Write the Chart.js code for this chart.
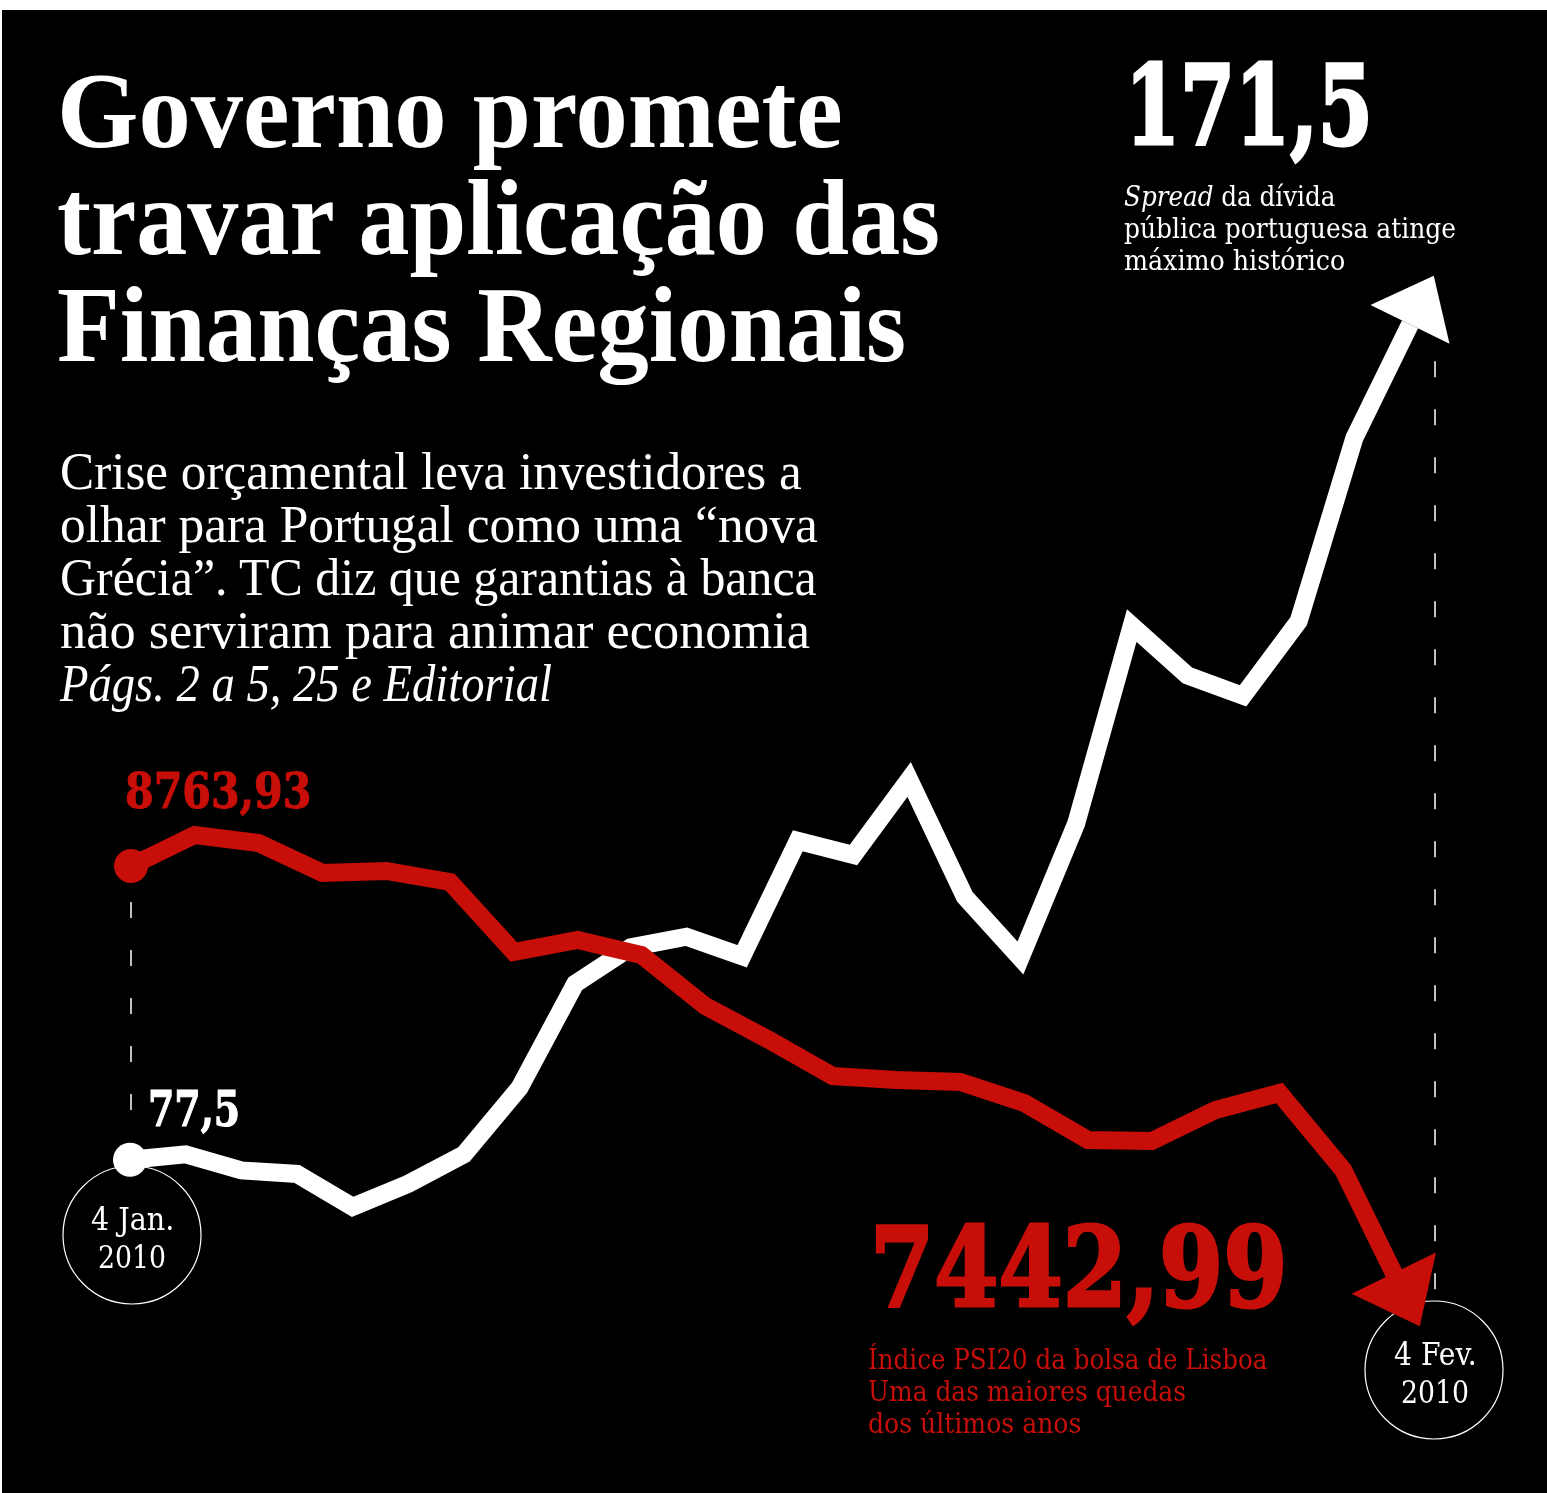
<!DOCTYPE html>
<html lang="pt">
<head>
<meta charset="utf-8">
<title>Governo promete travar aplicação das Finanças Regionais</title>
<script src="https://cdn.jsdelivr.net/npm/chart.js@4.4.1/dist/chart.umd.min.js"></script>
<style>
  html, body { margin: 0; padding: 0; background: #fff; }
  #page { position: relative; width: 1547px; height: 1493px; overflow: hidden; }
  #panel { position: absolute; left: 2px; top: 10px; right: 0; bottom: 0; background: #000; }
  #chart { position: absolute; left: 0; top: 0; }
  .t { position: absolute; white-space: nowrap; line-height: 1; transform-origin: 0 0; }
  .title { font-family: "Liberation Serif", serif; font-weight: 700; color: #fff; }
  .sub { font-family: "Liberation Serif", serif; color: #fff; }
  .num { font-family: "DejaVu Serif Condensed", "DejaVu Serif", serif; font-weight: 700; }
  .big { -webkit-text-stroke: 3px currentColor; }
  .small { -webkit-text-stroke: 1px currentColor; }
  .cap { font-family: "DejaVu Serif Condensed", "DejaVu Serif", serif; }
  .date { font-family: "DejaVu Serif Condensed", "DejaVu Serif", serif; color: #fff; }
</style>
</head>
<body>
<div id="page">
  <div id="panel"></div>
  <canvas id="chart" width="1547" height="1493"></canvas>
  <div id="labels"></div>
</div>
<script>
// spread da dívida pública (pontos base), sessões de 4 Jan. a 4 Fev. 2010
const spreadDates = ['4 Jan', '5 Jan', '6 Jan', '7 Jan', '8 Jan', '11 Jan', '12 Jan', '13 Jan', '14 Jan', '15 Jan', '18 Jan', '19 Jan',
    '20 Jan', '21 Jan', '22 Jan', '25 Jan', '26 Jan', '27 Jan', '28 Jan', '29 Jan', '1 Fev', '2 Fev', '3 Fev', '4 Fev'];
const spreadValues = [77.5, 78.1, 76.3, 75.9, 72.2, 74.8, 78.1, 85.6, 97.3, 101.4, 102.6, 100.4,
    113.4, 111.8, 120.3, 107.1, 100.2, 115.3, 137.6, 132.0, 129.7, 138.1, 158.7, 171.5];

// índice PSI20
const psiValues = [8763.93, 8858.3, 8833.9, 8742.6, 8748.7, 8715.2, 8502.2, 8538.7, 8493.1, 8337.9, 8234.4,
    8124.8, 8112.7, 8106.6, 8042.7, 7930.1, 7927.0, 8021.4, 8073.1, 7838.8, 7442.99];

const RED = '#c80e08';
const WHITE = '#ffffff';

// texts: [text, class, left, baseline, size, width, colour]
const textLines = [
    ['Governo promete', 'title', 57, 148, 108, 786],
    ['travar aplicação das', 'title', 57, 255, 108, 883],
    ['Finanças Regionais', 'title', 57, 362, 108, 849],
    ['Crise orçamental leva investidores a', 'sub', 60, 490, 52, 742],
    ['olhar para Portugal como uma “nova', 'sub', 60, 543, 52, 758],
    ['Grécia”. TC diz que garantias à banca', 'sub', 60, 596, 52, 757],
    ['não serviram para animar economia', 'sub', 60, 649, 52, 750],
    ['<i>Págs. 2 a 5, 25 e Editorial</i>', 'sub', 60, 702, 52, 492],
    ['171,5', 'num big', 1125, 143, 111, 248, WHITE],
    ['<i>Spread</i> da dívida', 'cap', 1124, 206, 27, 211, WHITE],
    ['pública portuguesa atinge', 'cap', 1124, 238, 27, 332, WHITE],
    ['máximo histórico', 'cap', 1124, 270, 27, 221, WHITE],
    ['8763,93', 'num small', 125, 808, 49, 186, RED],
    ['77,5', 'num small', 148, 1125, 48, 92, WHITE],
    ['7442,99', 'num big', 870, 1305, 110, 418, RED],
    ['Índice PSI20 da bolsa de Lisboa', 'cap', 868, 1369, 27, 399, RED],
    ['Uma das maiores quedas', 'cap', 868, 1401, 27, 318, RED],
    ['dos últimos anos', 'cap', 868, 1433, 27, 213, RED],
    ['4 Jan.', 'date', 91, 1230, 31, 83],
    ['2010', 'date', 98, 1268, 31, 68],
    ['4 Fev.', 'date', 1394, 1365, 31, 83],
    ['2010', 'date', 1401, 1403, 31, 68]
];

const labels = document.getElementById('labels');
textLines.forEach(([txt, cls, x, base, size, w, color]) => {
    const el = document.createElement('span');
    el.className = 't ' + cls;
    el.innerHTML = txt;
    el.style.left = x + 'px';
    el.style.top = (base - size * 0.84) + 'px';
    el.style.fontSize = size + 'px';
    if (color) el.style.color = color;
    el.dataset.w = w;
    labels.appendChild(el);
});

// squeeze each line to the width it has in the print layout
function fitWidths() {
    document.querySelectorAll('.t').forEach(el => {
        const actual = el.offsetWidth;
        if (actual > 0) el.style.transform = `scaleX(${(el.dataset.w / actual).toFixed(4)})`;
    });
}

const arrowsAndMarks = {
    id: 'arrowsAndMarks',
    beforeDatasetsDraw(chart) {
        const { ctx } = chart;
        const red = chart.getDatasetMeta(0).data;
        const white = chart.getDatasetMeta(1).data;
        ctx.save();
        ctx.strokeStyle = WHITE;
        ctx.lineWidth = 1.5;
        ctx.setLineDash([16, 32]);
        // left marker: start date
        ctx.beginPath();
        ctx.moveTo(131, red[0].y + 36);
        ctx.lineTo(131, white[0].y - 48);
        ctx.stroke();
        // right marker: end date
        ctx.beginPath();
        ctx.moveTo(1435, white[white.length - 1].y + 37);
        ctx.lineTo(1435, 1301);
        ctx.stroke();
        ctx.setLineDash([]);
        ctx.lineWidth = 1.2;
        [[132, 1235], [1434, 1370]].forEach(([cx, cy]) => {
            ctx.beginPath();
            ctx.arc(cx, cy, 69, 0, Math.PI * 2);
            ctx.stroke();
        });
        ctx.restore();
    },
    afterDatasetsDraw(chart) {
        const { ctx } = chart;
        // [dataset, colour, half base, length, pulled back from last point]
        const heads = [[0, RED, 47, 59, 30], [1, WHITE, 44, 54, 0]];
        heads.forEach(([i, color, half, len, back]) => {
            const pts = chart.getDatasetMeta(i).data;
            const a = pts[pts.length - 2];
            const b = pts[pts.length - 1];
            const dx = b.x - a.x, dy = b.y - a.y;
            const d = Math.hypot(dx, dy);
            const ux = dx / d, uy = dy / d;
            const bx = b.x - ux * back, by = b.y - uy * back;
            ctx.save();
            ctx.fillStyle = color;
            ctx.beginPath();
            ctx.moveTo(bx - uy * half, by + ux * half);
            ctx.lineTo(bx + ux * len, by + uy * len);
            ctx.lineTo(bx + uy * half, by - ux * half);
            ctx.closePath();
            ctx.fill();
            ctx.restore();
        });
    }
};

const lineStyle = {
    borderWidth: 18,
    borderJoinStyle: 'miter',
    borderCapStyle: 'butt',
    tension: 0,
    clip: false,
    pointRadius: ctx => ctx.dataIndex === 0 ? 17 : 0,
    pointBorderWidth: 0,
    pointHoverRadius: 0
};

new Chart(document.getElementById('chart'), {
    type: 'line',
    data: {
        datasets: [
            {
                label: 'PSI20',
                data: psiValues.map((v, i) => ({ x: i, y: v })),
                xAxisID: 'xR',
                yAxisID: 'yR',
                borderColor: RED,
                pointBackgroundColor: RED,
                ...lineStyle
            },
            {
                label: 'Spread',
                data: spreadValues.map((v, i) => ({ x: i, y: v, date: spreadDates[i] })),
                xAxisID: 'xW',
                yAxisID: 'yW',
                borderColor: WHITE,
                pointBackgroundColor: WHITE,
                ...lineStyle
            }
        ]
    },
    options: {
        responsive: false,
        animation: false,
        events: [],
        layout: { autoPadding: false, padding: { left: 130, right: 137, top: 0, bottom: 0 } },
        plugins: { legend: { display: false }, tooltip: { enabled: false } },
        scales: {
            xW: { type: 'linear', display: false, min: 0, max: 23 },
            xR: { type: 'linear', display: false, min: -0.016, max: 20.047 },
            yW: { type: 'linear', display: false, min: 40, max: 208 },
            yR: { type: 'linear', display: false, min: 6856, max: 11399 }
        }
    },
    plugins: [arrowsAndMarks]
});

fitWidths();
if (document.fonts) document.fonts.ready.then(fitWidths);
</script>
</body>
</html>
